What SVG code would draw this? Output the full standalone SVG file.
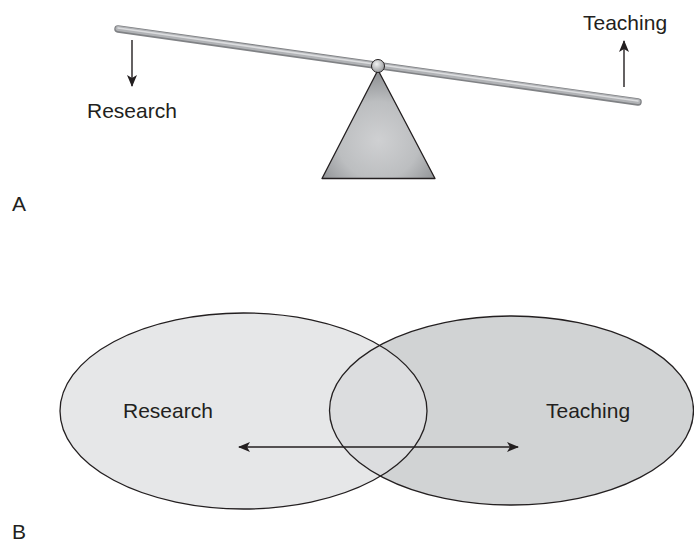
<svg xmlns="http://www.w3.org/2000/svg" width="694" height="542" viewBox="0 0 694 542">
<defs>
<style>
text{font-family:"Liberation Sans",Arial,sans-serif;font-size:21px;fill:#231f20}
.arr{stroke:#231f20;stroke-width:1.4;fill:none}
.ell{stroke:#231f20;stroke-width:1.3}
</style>
<marker id="ah" viewBox="0 0 12 10" refX="11" refY="5" markerWidth="13" markerHeight="10" markerUnits="userSpaceOnUse" orient="auto-start-reverse">
<path d="M0,0 L12,5 L0,10 L3,5 Z" fill="#231f20"/>
</marker>
<radialGradient id="tri" cx="0.5" cy="0.65" r="0.6">
<stop offset="0" stop-color="#cfd0d2"/>
<stop offset="0.6" stop-color="#bcbec0"/>
<stop offset="1" stop-color="#939598"/>
</radialGradient>
<radialGradient id="ball" cx="0.4" cy="0.35" r="0.7">
<stop offset="0" stop-color="#f1f2f2"/>
<stop offset="1" stop-color="#939598"/>
</radialGradient>
<clipPath id="clipL"><ellipse cx="243.5" cy="411" rx="183.5" ry="98"/></clipPath>
</defs>
<rect width="694" height="542" fill="#ffffff"/>
<g id="seesaw">
<polygon points="378,70 322,178.5 435,178.5" fill="url(#tri)" stroke="#231f20" stroke-width="1.3" stroke-linejoin="round"/>
<line x1="118" y1="29" x2="638" y2="102" stroke="#808285" stroke-width="7.5" stroke-linecap="round"/>
<line x1="118" y1="28.6" x2="638" y2="101.6" stroke="#b1b3b6" stroke-width="5" stroke-linecap="round"/>
<line x1="118" y1="28" x2="638" y2="101" stroke="#dcdddf" stroke-width="1.6" stroke-linecap="round"/>
<circle cx="378" cy="66" r="6.5" fill="url(#ball)" stroke="#231f20" stroke-width="1"/>
</g>
<g id="labelsA">
<text x="87" y="118">Research</text>
<text x="583" y="30">Teaching</text>
<text x="12" y="211">A</text>
</g>
<g id="venn">
<g id="research-ellipse"><ellipse cx="243.5" cy="411" rx="183.5" ry="98" fill="#e6e7e8"/></g>
<g id="teaching-ellipse"><ellipse cx="511.5" cy="410.5" rx="182" ry="94.5" fill="#d1d3d4"/></g>
<ellipse cx="511.5" cy="410.5" rx="182" ry="94.5" fill="#dcdddf" clip-path="url(#clipL)"/>
<ellipse class="ell" cx="243.5" cy="411" rx="183.5" ry="98" fill="none"/>
<ellipse class="ell" cx="511.5" cy="410.5" rx="182" ry="94.5" fill="none"/>
<text x="123" y="418">Research</text>
<text x="546" y="418">Teaching</text>
<text x="12" y="539">B</text>
</g>
<g id="connectors">
<line class="arr" x1="132" y1="40" x2="132" y2="86" marker-end="url(#ah)"/>
<line class="arr" x1="624" y1="87" x2="624" y2="41" marker-end="url(#ah)"/>
<line class="arr" x1="239" y1="447" x2="518" y2="447" marker-start="url(#ah)" marker-end="url(#ah)"/>
</g>
</svg>
